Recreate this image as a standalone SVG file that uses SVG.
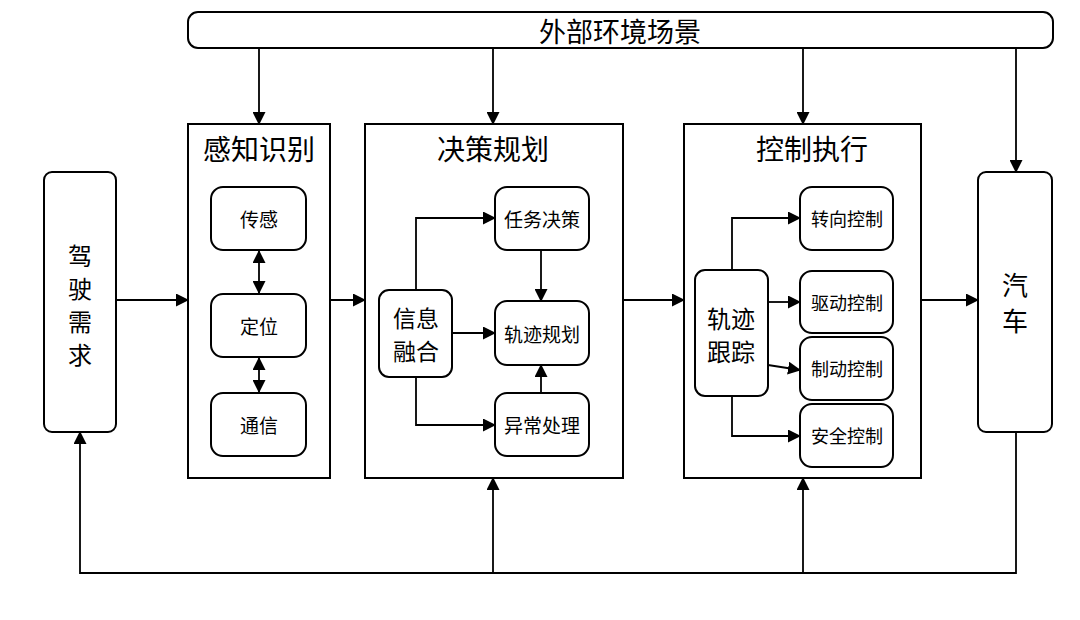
<svg xmlns="http://www.w3.org/2000/svg" width="1080" height="620" viewBox="0 0 1080 620">
<style>
.b{fill:#fff;stroke:#000;stroke-width:2}
.t{font-family:"Noto Sans CJK SC",sans-serif;fill:#000;text-anchor:middle;dominant-baseline:central}
.l{fill:none;stroke:#000;stroke-width:1.8;marker-end:url(#a)}
</style>
<defs>
<marker id="a" markerWidth="13" markerHeight="13" refX="12" refY="6.5" orient="auto" markerUnits="userSpaceOnUse"><path d="M0,0L13,6.5L0,13z"/></marker>
<marker id="s" markerWidth="13" markerHeight="13" refX="1" refY="6.5" orient="auto" markerUnits="userSpaceOnUse"><path d="M13,0L0,6.5L13,13z"/></marker>
</defs>
<rect width="1080" height="620" fill="#fff"/>
<g id="env"><rect class="b" x="188" y="12" width="865" height="36" rx="10"/><text class="t" x="620" y="30" font-size="27">外部环境场景</text></g>
<g id="driver"><rect class="b" x="44" y="172" width="72" height="260" rx="8"/><text class="t" x="80" y="254" font-size="24">驾</text><text class="t" x="80" y="287" font-size="24">驶</text><text class="t" x="80" y="320" font-size="24">需</text><text class="t" x="80" y="353" font-size="24">求</text></g>
<g id="perception"><rect class="b" x="188" y="124" width="142" height="354"/><text class="t" x="259" y="148" font-size="28">感知识别</text></g>
<g id="sense"><rect class="b" x="211" y="187" width="95" height="63" rx="12"/><text class="t" x="259" y="218" font-size="19">传感</text></g>
<g id="locate"><rect class="b" x="211" y="294" width="95" height="63" rx="12"/><text class="t" x="259" y="325" font-size="19">定位</text></g>
<g id="comm"><rect class="b" x="211" y="393" width="95" height="63" rx="12"/><text class="t" x="259" y="424" font-size="19">通信</text></g>
<g id="decision"><rect class="b" x="365" y="124" width="258" height="354"/><text class="t" x="493" y="148" font-size="28">决策规划</text></g>
<g id="fusion"><rect class="b" x="379" y="290" width="73" height="87" rx="10"/><text class="t" x="416" y="317" font-size="23">信息</text><text class="t" x="416" y="350" font-size="23">融合</text></g>
<g id="task"><rect class="b" x="495" y="187" width="94" height="63" rx="12"/><text class="t" x="542" y="218" font-size="19">任务决策</text></g>
<g id="plan"><rect class="b" x="495" y="301" width="94" height="64" rx="12"/><text class="t" x="542" y="333" font-size="19">轨迹规划</text></g>
<g id="exc"><rect class="b" x="495" y="393" width="94" height="63" rx="12"/><text class="t" x="542" y="424" font-size="19">异常处理</text></g>
<g id="control"><rect class="b" x="684" y="124" width="237" height="354"/><text class="t" x="812" y="148" font-size="28">控制执行</text></g>
<g id="track"><rect class="b" x="695" y="270" width="73" height="126" rx="10"/><text class="t" x="731" y="317" font-size="24">轨迹</text><text class="t" x="731" y="350" font-size="24">跟踪</text></g>
<g id="steer"><rect class="b" x="800" y="187" width="93" height="63" rx="12"/><text class="t" x="847" y="218" font-size="18">转向控制</text></g>
<g id="drive"><rect class="b" x="800" y="271" width="93" height="62" rx="12"/><text class="t" x="847" y="302" font-size="18">驱动控制</text></g>
<g id="brake"><rect class="b" x="800" y="337" width="93" height="63" rx="12"/><text class="t" x="847" y="368" font-size="18">制动控制</text></g>
<g id="safe"><rect class="b" x="800" y="404" width="93" height="63" rx="12"/><text class="t" x="847" y="435" font-size="18">安全控制</text></g>
<g id="car"><rect class="b" x="978" y="172" width="74" height="260" rx="8"/><text class="t" x="1015" y="283" font-size="26">汽</text><text class="t" x="1015" y="319" font-size="26">车</text></g>
<g id="connectors">
<path class="l" d="M259,48V124"/><path class="l" d="M493,48V124"/><path class="l" d="M803,48V124"/><path class="l" d="M1016,48V172"/>
<path class="l" d="M116,300H188"/><path class="l" d="M330,300H365"/><path class="l" d="M623,300H684"/><path class="l" d="M921,300H978"/>
<path class="l" d="M1016,432V573H80V432"/><path class="l" d="M493,573V478"/><path class="l" d="M803,573V478"/>
<path class="l" marker-start="url(#s)" d="M259,251V293"/><path class="l" marker-start="url(#s)" d="M259,358V392"/>
<path class="l" d="M416,290V218H495"/><path class="l" d="M452,333H495"/><path class="l" d="M416,377V425H495"/>
<path class="l" d="M541,250V301"/><path class="l" d="M541,393V365"/>
<path class="l" d="M732,270V218H800"/><path class="l" d="M768,302H800"/><path class="l" d="M768,365L800,370"/><path class="l" d="M732,396V436H800"/>
</g>
</svg>
